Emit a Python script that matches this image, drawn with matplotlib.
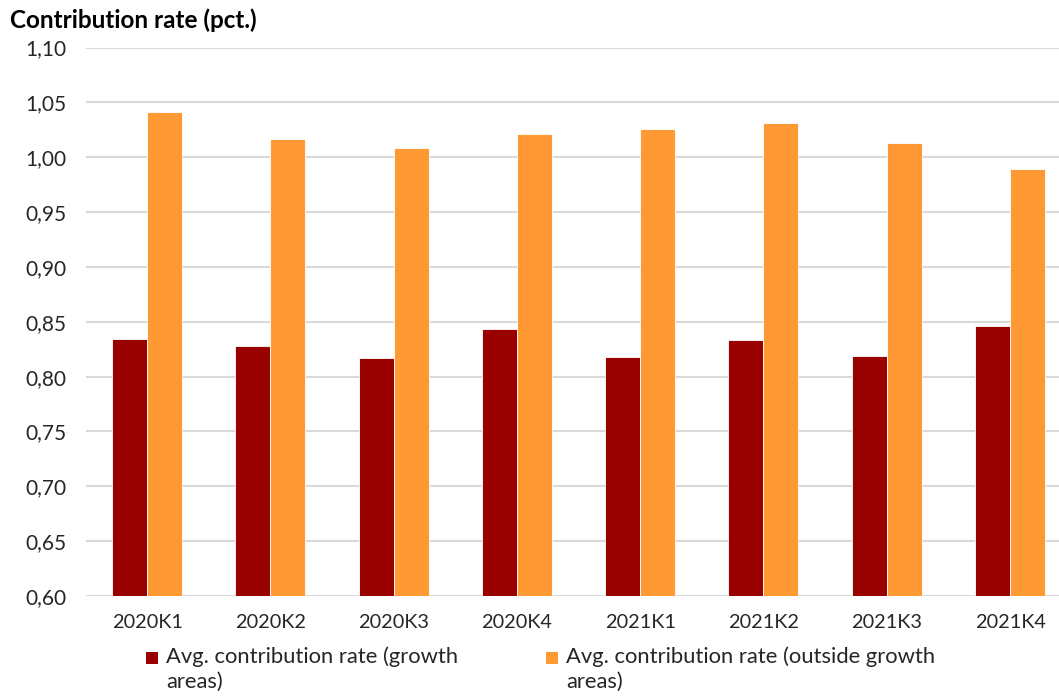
import matplotlib
matplotlib.use("Agg")
import matplotlib.pyplot as plt
from matplotlib.patches import Rectangle
import numpy as np

categories = ["2020K1", "2020K2", "2020K3", "2020K4", "2021K1", "2021K2", "2021K3", "2021K4"]
growth = [0.834, 0.828, 0.817, 0.843, 0.818, 0.833, 0.819, 0.846]
outside = [1.041, 1.017, 1.008, 1.021, 1.026, 1.031, 1.013, 0.989]
yticks = [0.60, 0.65, 0.70, 0.75, 0.80, 0.85, 0.90, 0.95, 1.00, 1.05, 1.10]
label_growth = "Avg. contribution rate (growth\nareas)"
label_outside = "Avg. contribution rate (outside growth\nareas)"
title = "Contribution rate (pct.)"

RED = "#990000"
ORANGE = "#FF9933"
FONT = ["Lato", "DejaVu Sans"]
plt.rcParams["font.family"] = FONT

W, H = 1059, 697
fig = plt.figure(figsize=(W / 100, H / 100), dpi=100)
ax = fig.add_axes([86 / W, (H - 596) / H, (W - 86) / W, (596 - 47.5) / H])

x = np.arange(len(categories))
bw = 0.284
ax.bar(x - bw / 2, growth, width=bw, color=RED, edgecolor="white", linewidth=0.6, zorder=3)
ax.bar(x + bw / 2, outside, width=bw, color=ORANGE, edgecolor="white", linewidth=0.6, zorder=3)

ax.set_ylim(0.60, 1.10)
ax.set_xlim(-0.495, 7.397)
ax.set_yticks(yticks)
ax.set_yticklabels([f"{v:.2f}".replace(".", ",") for v in yticks], fontsize=15, color="#262626")
ax.set_xticks(x)
ax.set_xticklabels(categories, fontsize=14.3, color="#262626")
ax.tick_params(axis="both", length=0)
ax.tick_params(axis="y", pad=14)
ax.tick_params(axis="x", pad=13)
for s in ax.spines.values():
    s.set_visible(False)
ax.yaxis.grid(True, color="#D9D9D9", linewidth=1.5, zorder=0)
ax.set_axisbelow(True)

fig.text(10 / W, 1 - 20 / H, title, fontsize=17.5, fontweight="bold", va="center", ha="left", color="black")

# legend
sq = 12
for (sx, tx, col, lab) in [(146, 166, RED, label_growth), (546, 566, ORANGE, label_outside)]:
    fig.patches.append(Rectangle((sx / W, 1 - (658 + sq / 2) / H), sq / W, sq / H,
                                 transform=fig.transFigure, facecolor=col, edgecolor="none"))
    fig.text(tx / W, 1 - 646 / H, lab, fontsize=15.8, va="top", ha="left", color="#262626", linespacing=1.3)

fig.savefig("out.png", dpi=100)
